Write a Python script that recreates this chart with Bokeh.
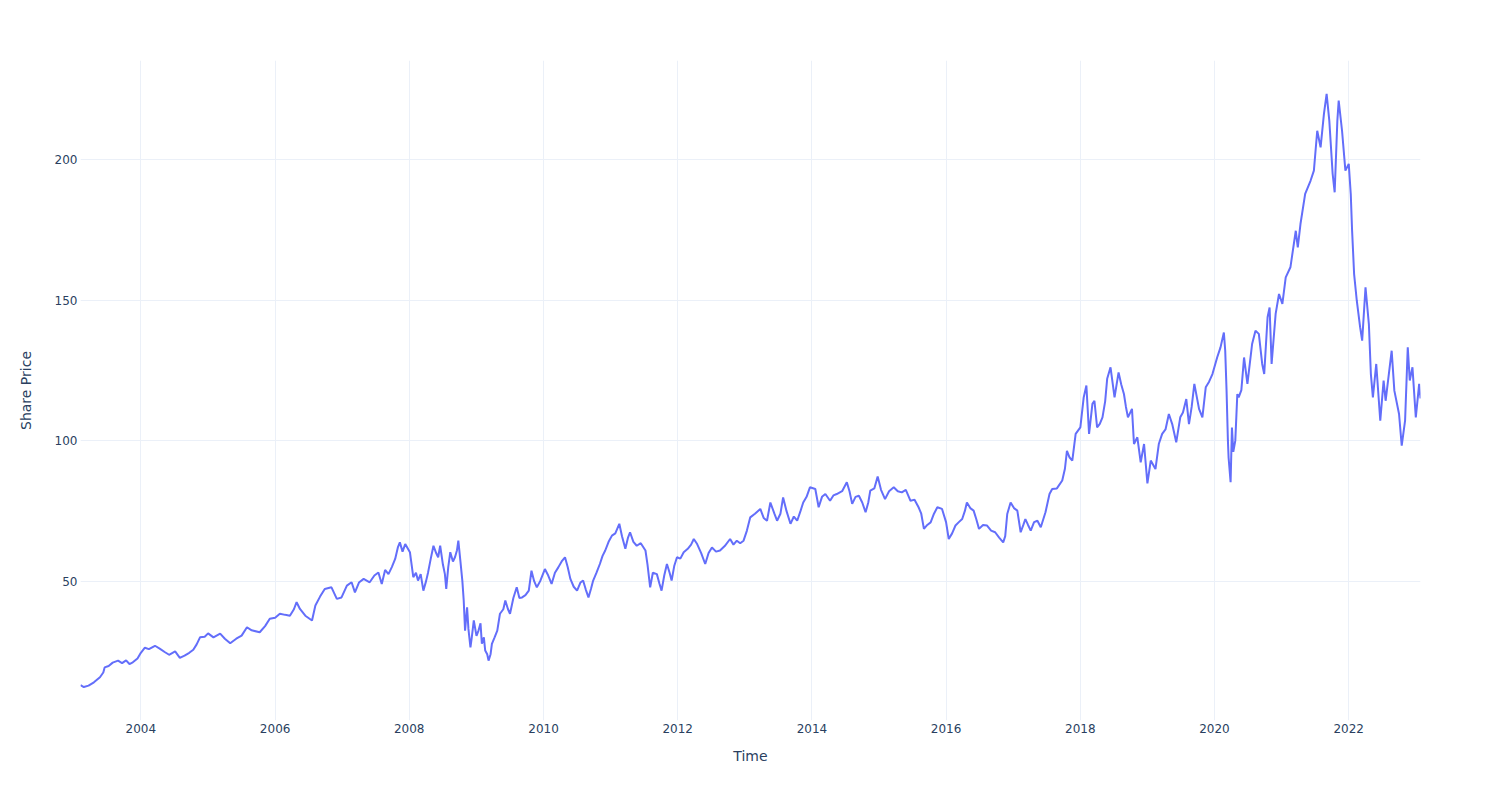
from datetime import datetime, timezone
from bokeh.plotting import figure
from bokeh.models import ColumnDataSource, FixedTicker, DatetimeTickFormatter, Range1d
from bokeh.embed import file_html
from bokeh.resources import INLINE

# Time as decimal years, share price
years = [
    2003.10, 2003.15, 2003.22, 2003.30, 2003.39, 2003.44, 2003.46, 2003.52, 2003.58, 2003.66,
    2003.72, 2003.78, 2003.83, 2003.88, 2003.95, 2004.00, 2004.06, 2004.12, 2004.21, 2004.28,
    2004.36, 2004.42, 2004.51, 2004.58, 2004.65, 2004.72, 2004.78, 2004.83, 2004.88, 2004.95,
    2005.00, 2005.08, 2005.18, 2005.25, 2005.33, 2005.42, 2005.50, 2005.58, 2005.65, 2005.77,
    2005.85, 2005.92, 2006.00, 2006.07, 2006.15, 2006.22, 2006.28, 2006.32, 2006.37, 2006.45,
    2006.55, 2006.60, 2006.67, 2006.74, 2006.84, 2006.92, 2006.99, 2007.07, 2007.14, 2007.19,
    2007.25, 2007.32, 2007.41, 2007.48, 2007.54, 2007.59, 2007.64, 2007.69, 2007.74, 2007.79,
    2007.83, 2007.86, 2007.90, 2007.94, 2008.01, 2008.04, 2008.06, 2008.10, 2008.13, 2008.17,
    2008.21, 2008.25, 2008.28, 2008.32, 2008.36, 2008.40, 2008.43, 2008.46, 2008.50, 2008.53,
    2008.55, 2008.58, 2008.61, 2008.65, 2008.68, 2008.71, 2008.73, 2008.76, 2008.79, 2008.81,
    2008.83, 2008.86, 2008.88, 2008.91, 2008.93, 2008.96, 2009.00, 2009.03, 2009.06, 2009.08,
    2009.11, 2009.13, 2009.16, 2009.18, 2009.21, 2009.23, 2009.27, 2009.31, 2009.35, 2009.40,
    2009.43, 2009.47, 2009.50, 2009.55, 2009.60, 2009.64, 2009.68, 2009.73, 2009.78, 2009.82,
    2009.86, 2009.90, 2009.95, 2010.02, 2010.07, 2010.12, 2010.17, 2010.22, 2010.27, 2010.32,
    2010.36, 2010.40, 2010.45, 2010.50, 2010.55, 2010.59, 2010.63, 2010.67, 2010.71, 2010.74,
    2010.79, 2010.84, 2010.88, 2010.92, 2010.97, 2011.02, 2011.07, 2011.13, 2011.17, 2011.22,
    2011.26, 2011.29, 2011.34, 2011.39, 2011.45, 2011.52, 2011.55, 2011.59, 2011.63, 2011.69,
    2011.73, 2011.76, 2011.80, 2011.84, 2011.88, 2011.91, 2011.95, 2011.99, 2012.04, 2012.09,
    2012.15, 2012.20, 2012.24, 2012.29, 2012.35, 2012.41, 2012.46, 2012.51, 2012.57, 2012.63,
    2012.70, 2012.78, 2012.83, 2012.88, 2012.93, 2012.98, 2013.03, 2013.08, 2013.15, 2013.23,
    2013.28, 2013.33, 2013.38, 2013.44, 2013.48, 2013.53, 2013.57, 2013.62, 2013.68, 2013.73,
    2013.78, 2013.83, 2013.87, 2013.92, 2013.97, 2014.05, 2014.10, 2014.15, 2014.20, 2014.27,
    2014.32, 2014.37, 2014.45, 2014.52, 2014.56, 2014.60, 2014.65, 2014.70, 2014.75, 2014.80,
    2014.84, 2014.87, 2014.93, 2014.98, 2015.03, 2015.09, 2015.15, 2015.22, 2015.28, 2015.34,
    2015.40, 2015.47, 2015.53, 2015.59, 2015.63, 2015.67, 2015.72, 2015.77, 2015.82, 2015.87,
    2015.94, 2016.00, 2016.04, 2016.09, 2016.14, 2016.19, 2016.24, 2016.28, 2016.31, 2016.36,
    2016.41, 2016.45, 2016.49, 2016.55, 2016.61, 2016.67, 2016.73, 2016.79, 2016.85, 2016.88,
    2016.91, 2016.96, 2017.01, 2017.06, 2017.11, 2017.15, 2017.18, 2017.22, 2017.26, 2017.31,
    2017.36, 2017.41, 2017.48, 2017.54, 2017.58, 2017.65, 2017.73, 2017.77, 2017.80, 2017.84,
    2017.88, 2017.93, 2018.00, 2018.05, 2018.09, 2018.13, 2018.18, 2018.21,
    2018.25, 2018.29, 2018.33, 2018.37, 2018.40, 2018.45, 2018.51, 2018.57, 2018.61, 2018.65,
    2018.68, 2018.71, 2018.77, 2018.80, 2018.85, 2018.90, 2018.95, 2019.00, 2019.05, 2019.12,
    2019.17, 2019.22, 2019.27, 2019.32, 2019.37, 2019.43, 2019.49, 2019.53, 2019.58, 2019.62,
    2019.66, 2019.70, 2019.77, 2019.82, 2019.87, 2019.92, 2019.97, 2020.04, 2020.09, 2020.14,
    2020.16, 2020.18, 2020.20, 2020.21, 2020.24, 2020.26, 2020.28, 2020.31, 2020.34, 2020.36,
    2020.40, 2020.44, 2020.49, 2020.56, 2020.61, 2020.66, 2020.71, 2020.74, 2020.79, 2020.82,
    2020.85, 2020.91, 2020.96, 2021.01, 2021.06, 2021.13, 2021.21, 2021.24, 2021.28, 2021.35,
    2021.43, 2021.48, 2021.53, 2021.58, 2021.63, 2021.67, 2021.71, 2021.76, 2021.79, 2021.83,
    2021.85, 2021.90, 2021.95, 2022.00, 2022.03, 2022.05, 2022.08, 2022.12, 2022.17, 2022.20,
    2022.25, 2022.30, 2022.33, 2022.36, 2022.41, 2022.47, 2022.52, 2022.55, 2022.64, 2022.68,
    2022.75, 2022.79, 2022.84, 2022.88, 2022.91, 2022.95, 2023.00, 2023.05, 2023.07,
]
prices = [
    13.0, 12.3, 12.8, 14.0, 15.8, 17.5, 19.3, 19.8, 21.0, 21.7,
    20.8, 21.8, 20.5, 21.1, 22.5, 24.5, 26.3, 25.8, 27.0, 26.0,
    24.7, 23.8, 25.0, 22.7, 23.5, 24.5, 25.6, 27.5, 30.0, 30.2,
    31.4, 30.0, 31.3, 29.5, 27.9, 29.5, 30.6, 33.6, 32.5, 31.8,
    34.0, 36.6, 37.0, 38.4, 38.0, 37.7, 40.0, 42.5, 40.1, 37.7,
    36.0, 41.3, 44.5, 47.2, 47.8, 43.7, 44.2, 48.4, 49.6, 46.0,
    49.5, 50.8, 49.6, 52.0, 53.1, 49.0, 54.0, 52.5, 55.0, 57.9,
    62.0, 63.8, 60.5, 63.2, 60.3, 55.0, 51.4, 53.0, 50.2, 52.5,
    46.6, 50.0, 53.1, 58.0, 62.6, 60.0, 58.5, 62.6, 56.0, 52.5,
    47.2, 55.0, 60.3, 57.0, 58.5, 61.0, 64.4, 57.3, 50.0, 43.1,
    32.4, 40.7, 33.0, 26.4, 30.0, 36.0, 30.5, 32.4, 35.0, 27.7,
    30.0, 25.3, 24.0, 21.7, 24.0, 27.7, 30.0, 32.4, 38.4, 40.0,
    43.1, 40.0, 38.4, 44.0, 47.8, 44.0, 44.2, 45.0, 46.6, 53.7,
    50.0, 47.8, 50.0, 54.3, 52.0, 49.0, 53.0, 54.9, 57.0, 58.5,
    55.0, 50.8, 48.0, 46.6, 49.5, 50.2, 47.0, 44.2, 47.5, 50.2,
    53.0, 56.1, 59.0, 60.9, 64.0, 66.2, 67.0, 70.4, 66.0, 61.5,
    65.5, 67.4, 64.0, 62.6, 63.5, 60.9, 56.0, 47.8, 53.0, 52.5,
    49.0, 46.6, 52.0, 56.1, 53.0, 50.2, 55.5, 58.5, 58.0, 60.3,
    61.5, 63.0, 65.0, 63.2, 60.0, 56.1, 60.0, 62.0, 60.5, 60.9,
    62.5, 65.0, 63.0, 64.4, 63.5, 64.4, 68.0, 72.7, 74.0, 75.7,
    72.5, 71.5, 78.0, 74.0, 71.5, 74.0, 79.8, 75.0, 70.4, 73.0,
    71.5, 75.0, 78.0, 80.0, 83.4, 82.8, 76.3, 80.0, 81.0, 78.6,
    80.5, 81.0, 82.0, 85.2, 82.0, 77.5, 80.0, 80.4, 78.0, 74.5,
    78.0, 82.2, 83.0, 87.2, 82.5, 79.2, 82.0, 83.4, 82.0, 81.6,
    82.5, 78.6, 79.0, 76.3, 74.0, 68.6, 70.0, 70.9, 74.0, 76.3,
    75.7, 71.0, 65.0, 67.0, 69.8, 71.0, 72.1, 75.0, 78.0, 76.0,
    75.1, 72.0, 68.6, 70.0, 69.8, 68.0, 67.4, 65.5, 63.8, 66.0,
    73.9, 78.0, 76.0, 75.1, 67.4, 70.0, 72.1, 70.0, 68.0, 71.0,
    71.5, 69.2, 74.5, 81.0, 82.8, 83.0, 85.8, 90.0, 96.4, 94.0,
    92.9, 102.4, 104.7, 115.4, 119.6, 102.4, 113.1, 114.2,
    104.7, 106.0, 108.3, 114.0, 122.0, 126.1, 115.4, 124.3, 120.0, 116.6,
    112.0, 108.3, 111.3, 98.8, 101.2, 92.3, 98.8, 84.8, 92.9, 89.9,
    98.8, 102.4, 104.0, 109.5, 105.9, 99.4, 108.3, 110.0, 114.8, 105.9,
    112.0, 120.2, 111.3, 108.3, 119.0, 121.0, 123.7, 129.6, 133.2, 138.5,
    132.0, 117.8, 100.0, 94.0, 85.2, 104.7, 96.0, 100.0, 116.6, 115.4,
    118.0, 129.6, 120.2, 134.4, 139.1, 138.0, 127.3, 123.7, 143.9, 147.4,
    127.3, 145.1, 152.2, 148.7, 158.1, 161.7, 174.7, 168.8, 177.1, 187.8,
    192.5, 196.1, 210.3, 204.4, 216.3, 223.4, 213.9, 194.9, 188.4, 213.9,
    221.0, 210.3, 196.1, 198.5, 187.8, 174.7, 159.3, 149.8, 140.3, 135.6,
    154.6, 141.5, 123.7, 115.4, 127.3, 107.1, 121.4, 114.2, 132.0, 117.8,
    109.5, 98.2, 107.1, 133.2, 121.4, 126.1, 108.3, 120.2, 115.0,
]
y_ticks = [50, 100, 150, 200]
x_tick_years = list(range(2004, 2024, 2))

EPOCH = datetime(1970, 1, 1, tzinfo=timezone.utc)
def year_start_ms(y):
    return (datetime(y, 1, 1, tzinfo=timezone.utc) - EPOCH).total_seconds() * 1000.0

def decimal_year_ms(yf):
    y = int(yf)
    start = year_start_ms(y)
    end = year_start_ms(y + 1)
    return start + (yf - y) * (end - start)

n = min(len(years), len(prices))
times_ms = [decimal_year_ms(y) for y in years[:n]]
x_ticks_ms = [year_start_ms(y) for y in x_tick_years]

source = ColumnDataSource(data=dict(t=times_ms, price=prices[:n]))

TEXT = "#2a3f5f"
GRID = "#ebf0f8"
FONT = "DejaVu Sans"

p = figure(
    width=1492, height=784,
    x_axis_type="datetime",
    output_backend="svg",
    toolbar_location=None,
    x_range=Range1d(times_ms[0], times_ms[-1]),
    y_range=Range1d(0.4, 235.3),
    min_border_left=80, min_border_right=72,
    min_border_top=60, min_border_bottom=64,
)
p.outline_line_color = None
p.background_fill_color = "white"
p.border_fill_color = "white"

p.line("t", "price", source=source, line_color="#636efa", line_width=2)

p.xaxis.ticker = FixedTicker(ticks=x_ticks_ms)
p.xaxis.formatter = DatetimeTickFormatter(years="%Y", months="%Y", days="%Y",
                                          hours="%Y", minutes="%Y", seconds="%Y")
p.yaxis.ticker = FixedTicker(ticks=y_ticks)
p.xgrid.ticker = p.xaxis.ticker
p.ygrid.ticker = p.yaxis.ticker

for grid in (p.xgrid, p.ygrid):
    grid.grid_line_color = GRID
    grid.grid_line_width = 1

for ax in (p.xaxis, p.yaxis):
    ax.axis_line_color = None
    ax.major_tick_line_color = None
    ax.minor_tick_line_color = None
    ax.major_tick_out = 0
    ax.major_tick_in = 0
    ax.minor_tick_out = 0
    ax.major_label_text_font = FONT
    ax.major_label_text_font_size = "12px"
    ax.major_label_text_color = TEXT
    ax.axis_label_text_font = FONT
    ax.axis_label_text_font_size = "14px"
    ax.axis_label_text_color = TEXT
    ax.axis_label_text_font_style = "normal"

p.xaxis.axis_label = "Time"
p.yaxis.axis_label = "Share Price"
p.xaxis.major_label_standoff = 3
p.xaxis.axis_label_standoff = 12
p.yaxis.major_label_standoff = 3
p.yaxis.axis_label_standoff = 18

open("out.html", "w").write(file_html(p, INLINE))
